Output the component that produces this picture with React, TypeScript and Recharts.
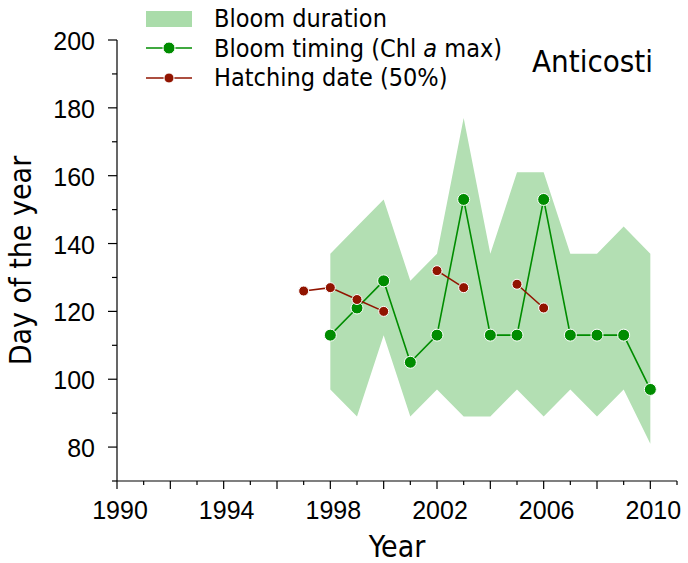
import { Area, ComposedChart, Line, XAxis, YAxis } from 'recharts'

const years = [1997, 1998, 1999, 2000, 2001, 2002, 2003, 2004, 2005, 2006, 2007, 2008, 2009, 2010]
const bloomTiming = [null, 113, 121, 129, 105, 113, 153, 113, 113, 153, 113, 113, 113, 97]
const hatchingDate = [126, 127, 123.5, 120, null, 132, 127, null, 128, 121, null, null, null, null]
const durationStart = [null, 97, 89, 113, 89, 97, 89, 89, 97, 89, 97, 89, 97, 81]
const durationEnd = [null, 137, 145, 153, 129, 137, 177, 137, 161, 161, 137, 137, 145, 137]

const xTicks = [1990, 1991, 1992, 1993, 1994, 1995, 1996, 1997, 1998, 1999, 2000, 2001, 2002, 2003, 2004, 2005, 2006, 2007, 2008, 2009, 2010, 2011]
const yTicks = [70, 80, 90, 100, 110, 120, 130, 140, 150, 160, 170, 180, 190, 200]

const data = years.map((year, i) => ({
  year,
  timing: bloomTiming[i],
  hatching: hatchingDate[i],
  duration: durationStart[i] == null ? null : [durationStart[i], durationEnd[i]]
}))

const GREEN = '#008c00'
const RED = '#911400'
const BAND = '#b3dfb3'
const LABEL_FONT = '"DejaVu Sans Condensed", "DejaVu Sans", sans-serif'
const TICK_FONT = '"Liberation Sans", Arial, sans-serif'

function YTick({ x, y, payload }: any) {
  const v = payload.value
  const major = v % 20 === 0
  return (
    <g>
      <line x1={x - (major ? 9 : 5)} x2={x} y1={y} y2={y} stroke="#000" strokeWidth={1.2} />
      {major && v >= 80 ? (
        <text x={x - 22} y={y} dy={10} textAnchor="end" fontSize={25} fontFamily={TICK_FONT} fill="#000">
          {v}
        </text>
      ) : null}
    </g>
  )
}

function XTick({ x, y, payload }: any) {
  const v = payload.value
  const labelled = (v - 1990) % 4 === 0 && v <= 2010
  return (
    <g>
      <line x1={x} x2={x} y1={y} y2={y + (v % 2 === 0 ? 8 : 4)} stroke="#000" strokeWidth={1.2} />
      {labelled ? (
        <text x={x + 3} y={y + 38} textAnchor="middle" fontSize={25} fontFamily={TICK_FONT} fill="#000">
          {v}
        </text>
      ) : null}
    </g>
  )
}

function LegendMarker({ color, r }: { color: string; r: number }) {
  return (
    <svg width={46} height={20} style={{ display: 'block' }}>
      <line x1={0} x2={46} y1={10} y2={10} stroke={color} strokeWidth={1.5} />
      <circle cx={23} cy={10} r={r} fill={color} stroke="#fff" strokeWidth={1} />
    </svg>
  )
}

export default function App() {
  const rowStyle: React.CSSProperties = {
    position: 'absolute',
    left: 146,
    display: 'flex',
    alignItems: 'center',
    height: 29,
    lineHeight: '29px',
    fontFamily: LABEL_FONT,
    fontSize: 25,
    color: '#000',
    whiteSpace: 'nowrap'
  }
  return (
    <div style={{ position: 'absolute', left: 0, top: 0, width: 688, height: 563, background: '#fff' }}>
      <ComposedChart width={688} height={563} data={data} margin={{ top: 40, right: 11, bottom: 0, left: 0 }}>
        <XAxis
          dataKey="year"
          type="number"
          domain={[1990, 2011]}
          ticks={xTicks}
          interval={0}
          height={82}
          tickSize={0}
          tickMargin={0}
          tick={<XTick />}
          axisLine={{ stroke: '#000', strokeWidth: 1.2 }}
          tickLine={false}
          label={{ value: 'Year', position: 'insideBottom', offset: 6, fontSize: 30, fontFamily: LABEL_FONT, fill: '#000' }}
        />
        <YAxis
          type="number"
          domain={[70, 200]}
          ticks={yTicks}
          interval={0}
          width={117}
          tickSize={0}
          tickMargin={0}
          tick={<YTick />}
          axisLine={{ stroke: '#000', strokeWidth: 1.2 }}
          tickLine={false}
          label={{
            value: 'Day of the year',
            angle: -90,
            position: 'insideLeft',
            offset: 20,
            style: { textAnchor: 'middle' },
            fontSize: 30,
            fontFamily: LABEL_FONT,
            fill: '#000'
          }}
        />
        <Area dataKey="duration" type="linear" fill={BAND} fillOpacity={1} stroke="none" isAnimationActive={false} />
        <Line
          dataKey="timing"
          type="linear"
          stroke={GREEN}
          strokeWidth={1.6}
          dot={{ r: 6, fill: GREEN, stroke: '#fff', strokeWidth: 1 }}
          isAnimationActive={false}
        />
        <Line
          dataKey="hatching"
          type="linear"
          stroke={RED}
          strokeWidth={1.6}
          dot={{ r: 5, fill: RED, stroke: '#fff', strokeWidth: 1 }}
          connectNulls={false}
          isAnimationActive={false}
        />
      </ComposedChart>
      <div style={{ ...rowStyle, top: 4 }}>
        <div style={{ width: 46, height: 16, background: '#aadcaa' }} />
        <span style={{ marginLeft: 22 }}>Bloom duration</span>
      </div>
      <div style={{ ...rowStyle, top: 33.5 }}>
        <LegendMarker color={GREEN} r={6} />
        <span style={{ marginLeft: 22 }}>
          Bloom timing (Chl <i>a</i> max)
        </span>
      </div>
      <div style={{ ...rowStyle, top: 63 }}>
        <LegendMarker color={RED} r={5} />
        <span style={{ marginLeft: 22 }}>Hatching date (50%)</span>
      </div>
      <div style={{ position: 'absolute', left: 532, top: 44, lineHeight: '34px', fontFamily: LABEL_FONT, fontSize: 31, color: '#000' }}>
        Anticosti
      </div>
    </div>
  )
}
